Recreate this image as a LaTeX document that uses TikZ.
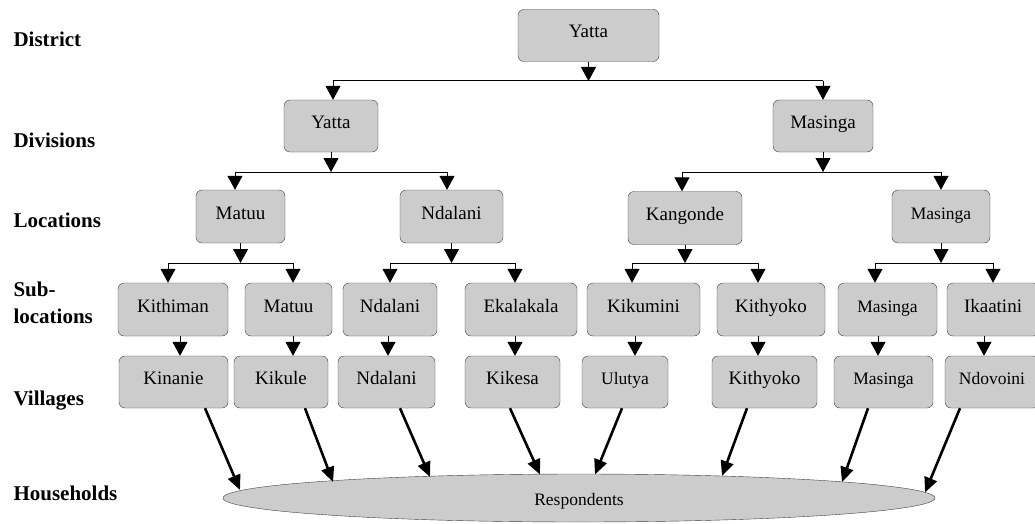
\documentclass[tikz,border=0pt]{standalone}
\usepackage{fontspec}
\setmainfont{Liberation Serif}
\usetikzlibrary{arrows.meta,calc,shapes.geometric}

\tikzset{
	box/.style={draw=black!75, fill=black!20, rounded corners=6pt, inner sep=0pt, minimum height=52pt, text height=13pt, text depth=8pt, font=\fontsize{19}{22}\selectfont},
	smallbox/.style={box, font=\fontsize{17.5}{20}\selectfont},
	level/.style={anchor=base west, font=\bfseries\fontsize{21}{27}\selectfont},
	tarr/.style={line width=1pt, -{Triangle[length=14pt,width=15pt]}},
	darr/.style={line width=2.6pt, -{Triangle[length=15pt,width=13pt]}}
}

\begin{document}
\begin{tikzpicture}[x=1pt,y=-1pt]
	%%%%% START %%%%%
	\clip (0,0) rectangle (1035,524);
	
	\node[level] (ldist) at (10,47) {District};
	\node[level] (ldiv) at (10,147) {Divisions};
	\node[level] (lloc) at (10,227) {Locations};
	\node[level,anchor=west,align=left] (lsub) at (10,303) {Sub-\\locations};
	\node[level] (lvil) at (10,405) {Villages};
	\node[level] (lhh) at (10,500) {Households};
	
	\node[box,minimum width=141pt] (dist) at (588.5,35.5) {Yatta};
	
	\node[box,minimum width=94pt] (dv1) at (331,126) {Yatta};
	\node[box,minimum width=100pt] (dv2) at (823,126) {Masinga};
	
	\node[box,minimum width=89pt,minimum height=53pt] (lc1) at (240.5,216.5) {Matuu};
	\node[box,minimum width=103pt,minimum height=53pt] (lc2) at (451.5,216.5) {Ndalani};
	\node[box,minimum width=114pt,minimum height=53pt] (lc3) at (685,218) {Kangonde};
	\node[smallbox,minimum width=98pt,minimum height=53pt] (lc4) at (941,216.5) {Masinga};
	
	\node[box,minimum width=110pt,minimum height=53pt] (s1) at (173,309.5) {Kithiman};
	\node[box,minimum width=87pt,minimum height=53pt] (s2) at (288.5,309.5) {Matuu};
	\node[box,minimum width=94pt,minimum height=53pt] (s3) at (390,309.5) {Ndalani};
	\node[box,minimum width=112pt,minimum height=53pt] (s4) at (521,309.5) {Ekalakala};
	\node[box,minimum width=113pt,minimum height=53pt] (s5) at (643.5,309.5) {Kikumini};
	\node[box,minimum width=108pt,minimum height=53pt] (s6) at (771,309.5) {Kithyoko};
	\node[smallbox,minimum width=99pt,minimum height=53pt] (s7) at (887.5,309.5) {Masinga};
	\node[box,minimum width=92pt,minimum height=53pt] (s8) at (993,309.5) {Ikaatini};
	
	\node[box,minimum width=109pt] (v1) at (173.5,382) {Kinanie};
	\node[box,minimum width=94pt] (v2) at (281,382) {Kikule};
	\node[box,minimum width=97pt] (v3) at (386.5,382) {Ndalani};
	\node[box,minimum width=95pt] (v4) at (512.5,382) {Kikesa};
	\node[smallbox,minimum width=86pt] (v5) at (625,382) {Ulutya};
	\node[box,minimum width=105pt] (v6) at (764.5,382) {Kithyoko};
	\node[smallbox,minimum width=99pt] (v7) at (883.5,382) {Masinga};
	\node[smallbox,minimum width=94pt] (v8) at (992,382) {Ndovoini};
	
	\node[ellipse,draw=black!75,fill=black!20,inner sep=0pt,minimum width=712pt,minimum height=48pt,text height=17pt,text depth=2pt,font=\fontsize{17.5}{20}\selectfont] (resp) at (579,498) {Respondents};
	
	% district to divisions
	\coordinate (j01) at (333,81);
	\coordinate (j02) at (823,81);
	\draw[tarr] (dist.south) -- (dist.south |- j01);
	\draw[line width=1pt] (j01) -- (j02);
	\draw[tarr] (j01) -- (j01 |- dv1.north);
	\draw[tarr] (j02) -- (j02 |- dv2.north);
	
	% divisions to locations
	\coordinate (j11) at (235,172);
	\coordinate (j12) at (447,172);
	\coordinate (j13) at (682,172);
	\coordinate (j14) at (941,172);
	\draw[tarr] (dv1.south) -- (dv1.south |- j11);
	\draw[line width=1pt] (j11) -- (j12);
	\draw[tarr] (j11) -- (j11 |- lc1.north);
	\draw[tarr] (j12) -- (j12 |- lc2.north);
	\draw[tarr] (dv2.south) -- (dv2.south |- j13);
	\draw[line width=1pt] (j13) -- (j14);
	\draw[tarr] (j13) -- (j13 |- lc3.north);
	\draw[tarr] (j14) -- (j14 |- lc4.north);
	
	% locations to sub-locations
	\coordinate (j21) at (168,263);
	\coordinate (j22) at (293,263);
	\coordinate (j23) at (390,263);
	\coordinate (j24) at (515,263);
	\coordinate (j25) at (632,263);
	\coordinate (j26) at (758,263);
	\coordinate (j27) at (875,263);
	\coordinate (j28) at (993,263);
	\draw[tarr] (lc1.south) -- (lc1.south |- j21);
	\draw[line width=1pt] (j21) -- (j22);
	\draw[tarr] (j21) -- (j21 |- s1.north);
	\draw[tarr] (j22) -- (j22 |- s2.north);
	\draw[tarr] (lc2.south) -- (lc2.south |- j23);
	\draw[line width=1pt] (j23) -- (j24);
	\draw[tarr] (j23) -- (j23 |- s3.north);
	\draw[tarr] (j24) -- (j24 |- s4.north);
	\draw[tarr] (lc3.south) -- (lc3.south |- j25);
	\draw[line width=1pt] (j25) -- (j26);
	\draw[tarr] (j25) -- (j25 |- s5.north);
	\draw[tarr] (j26) -- (j26 |- s6.north);
	\draw[tarr] (lc4.south) -- (lc4.south |- j27);
	\draw[line width=1pt] (j27) -- (j28);
	\draw[tarr] (j27) -- (j27 |- s7.north);
	\draw[tarr] (j28) -- (j28 |- s8.north);
	
	% sub-locations to villages
	\draw[tarr] ([xshift=7pt]s1.south) -- ([xshift=7pt]s1.south |- v1.north);
	\draw[tarr] ([xshift=4.5pt]s2.south) -- ([xshift=4.5pt]s2.south |- v2.north);
	\draw[tarr] ([xshift=-2pt]s3.south) -- ([xshift=-2pt]s3.south |- v3.north);
	\draw[tarr] ([xshift=-6pt]s4.south) -- ([xshift=-6pt]s4.south |- v4.north);
	\draw[tarr] ([xshift=-8.5pt]s5.south) -- ([xshift=-8.5pt]s5.south |- v5.north);
	\draw[tarr] ([xshift=-13pt]s6.south) -- ([xshift=-13pt]s6.south |- v6.north);
	\draw[tarr] ([xshift=-9.5pt]s7.south) -- ([xshift=-9.5pt]s7.south |- v7.north);
	\draw[tarr] ([xshift=-9pt]s8.south) -- ([xshift=-9pt]s8.south |- v8.north);
	
	% villages to households
	\draw[darr] ([xshift=31.5pt]v1.south) -- ($(resp.center)+(-339,-8)$);
	\draw[darr] ([xshift=24pt]v2.south) -- ($(resp.center)+(-246,-16)$);
	\draw[darr] ([xshift=13.5pt]v3.south) -- ($(resp.center)+(-149,-21)$);
	\draw[darr] ([xshift=-2.5pt]v4.south) -- ($(resp.center)+(-39,-23.5)$);
	\draw[darr] ([xshift=-3pt]v5.south) -- ($(resp.center)+(16,-23.5)$);
	\draw[darr] ([xshift=-17.5pt]v6.south) -- ($(resp.center)+(143,-22)$);
	\draw[darr] ([xshift=-15.5pt]v7.south) -- ($(resp.center)+(263,-16)$);
	\draw[darr] ([xshift=-32pt]v8.south) -- ($(resp.center)+(346,-5.5)$);
	%%%%% END %%%%%
\end{tikzpicture}
\end{document}
